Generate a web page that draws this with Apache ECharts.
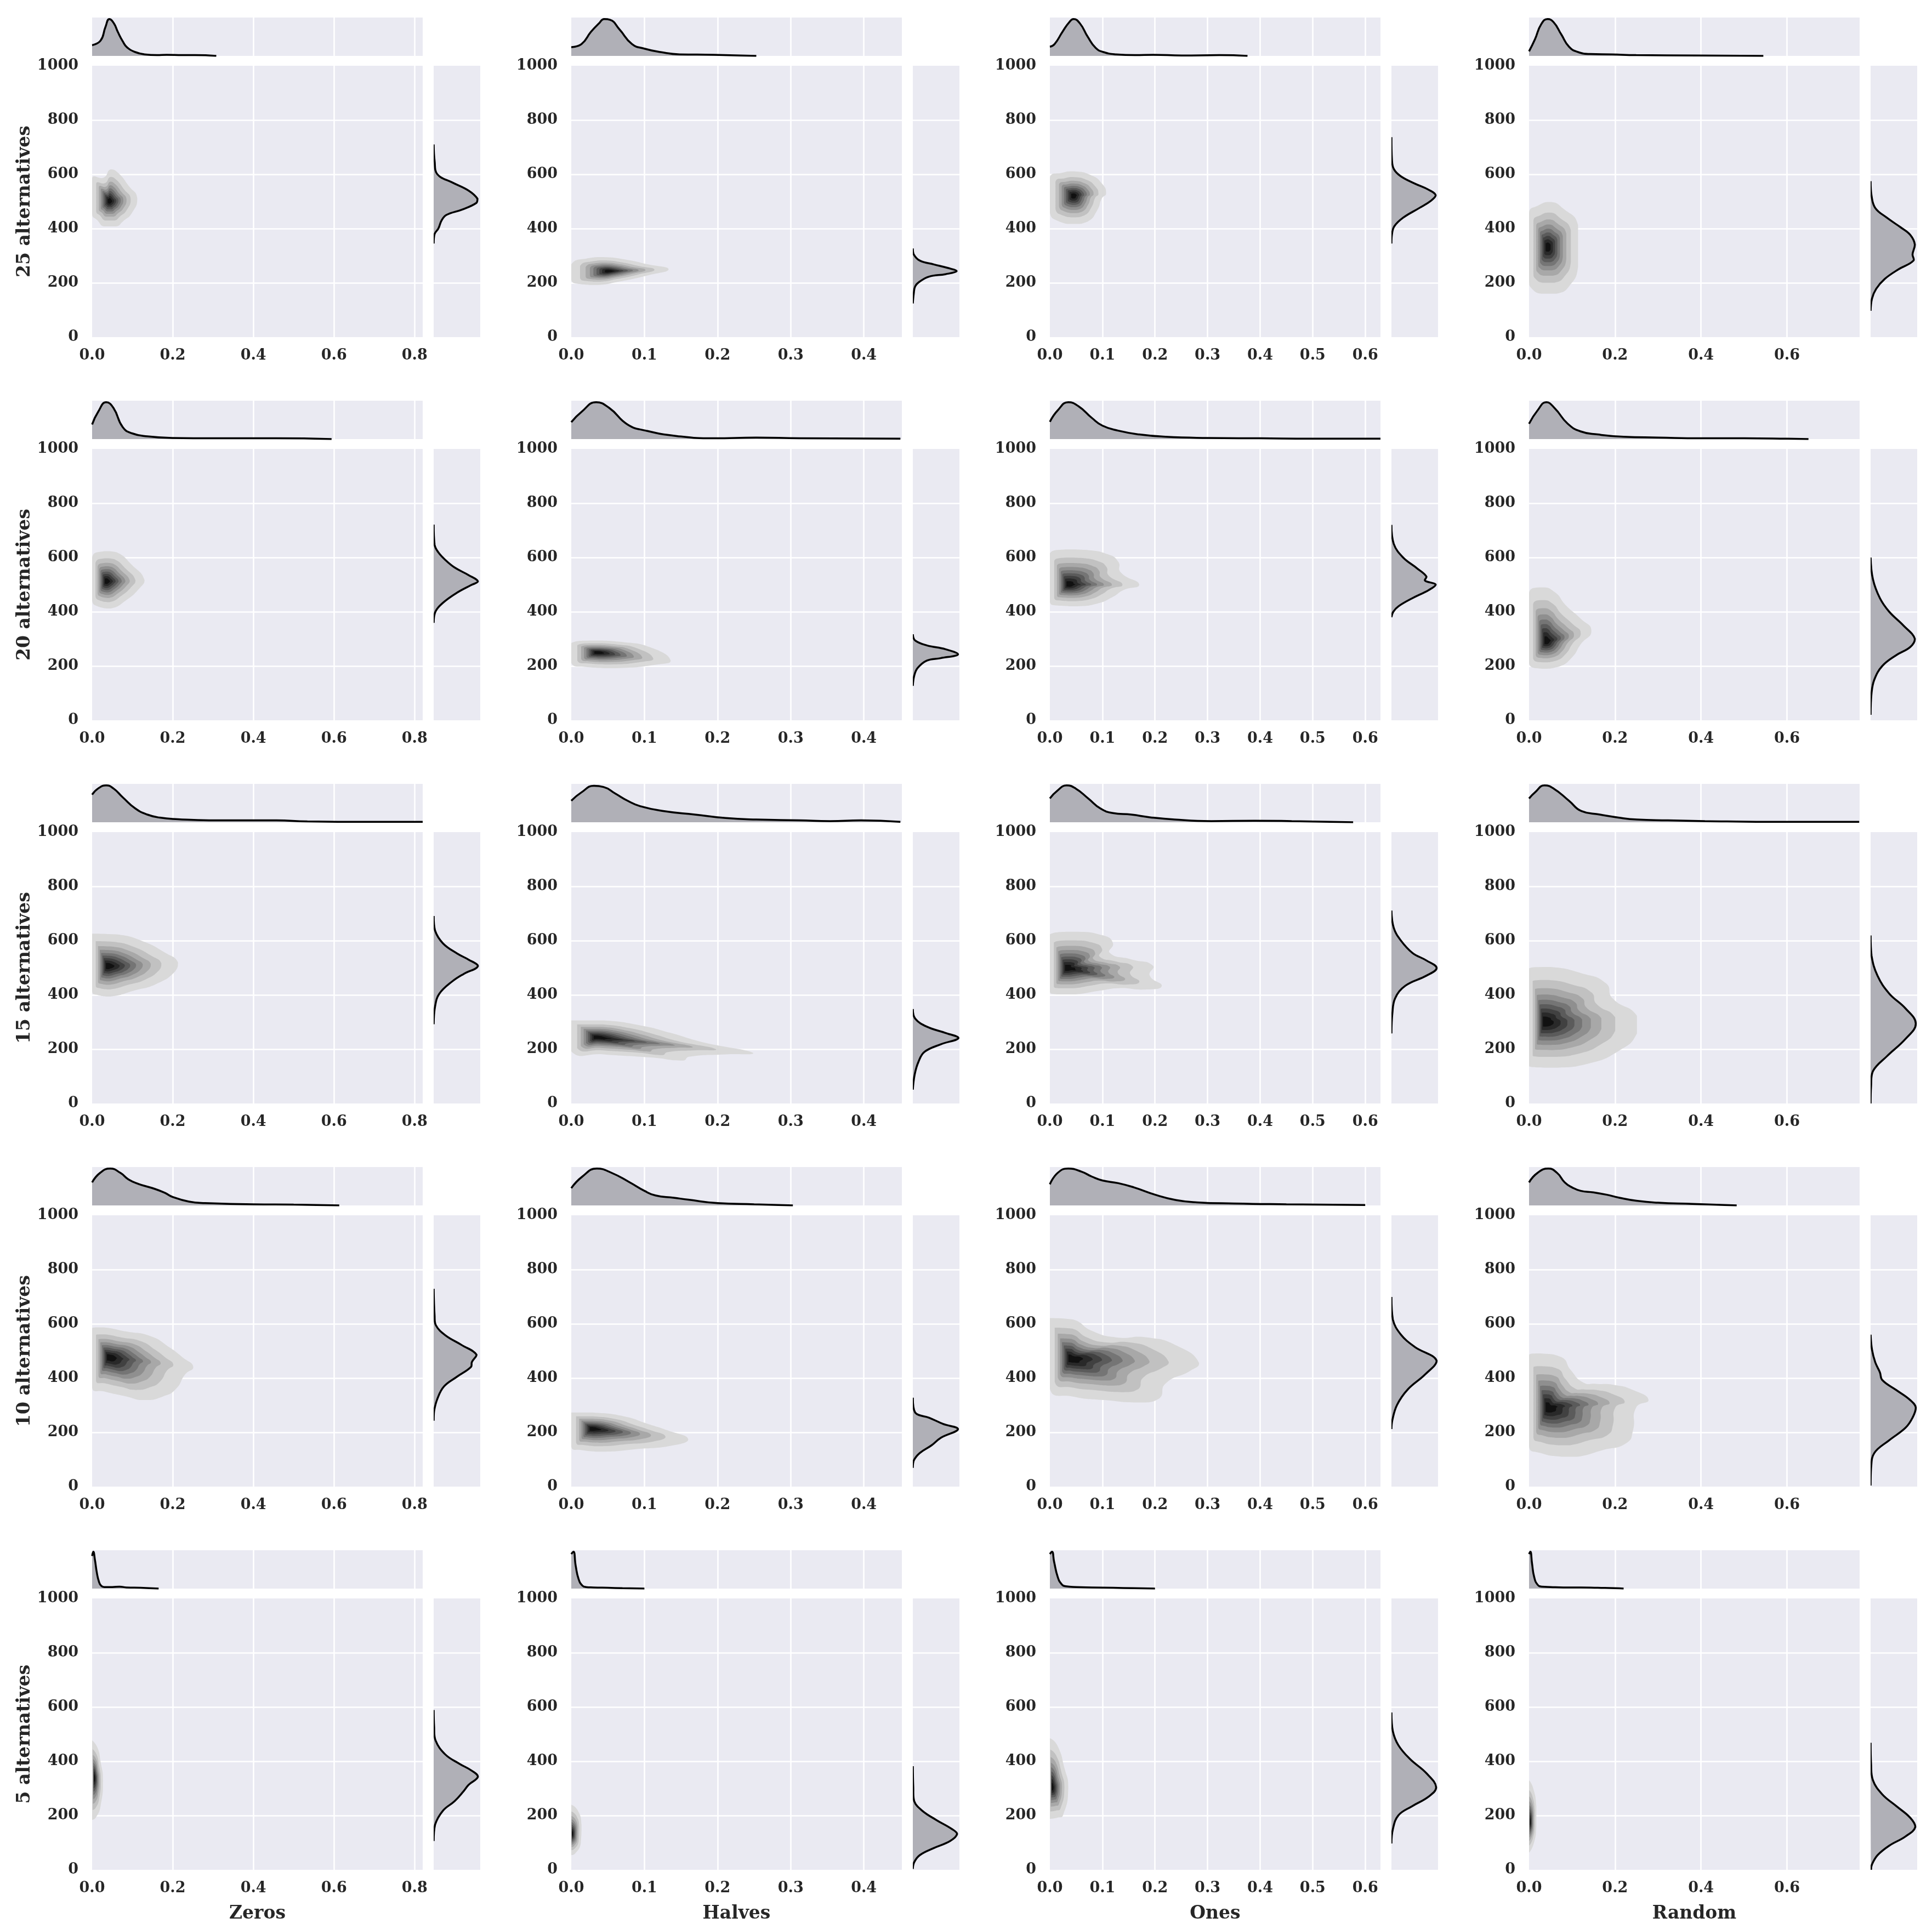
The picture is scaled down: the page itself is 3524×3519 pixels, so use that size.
<!DOCTYPE html>
<html><head><meta charset="utf-8">
<script src="https://cdn.jsdelivr.net/npm/echarts@6/dist/echarts.min.js"></script>
<style>html,body{margin:0;padding:0;background:#fff}#chart{width:3524px;height:3519px}</style>
</head><body><div id="chart"></div>
<script>
// ---------------- DATA ----------------
const rowLabels = ['25 alternatives', '20 alternatives', '15 alternatives', '10 alternatives', '5 alternatives'];
const colLabels = ['Zeros', 'Halves', 'Ones', 'Random'];
const xMax = [0.82, 0.452, 0.629, 0.769];
const xStep = [0.2, 0.1, 0.1, 0.2];
const yMin = 0, yMax = 1000, yStep = 200;

// density peaks [x, y] per column (Zeros, Halves, Ones, Random)
const peaks25 = [[0.043,501],[0.051,243],[0.045,521],[0.043,332]];
const peaks20 = [[0.035,512],[0.035,250],[0.035,500],[0.040,290]];
const peaks15 = [[0.038,506],[0.034,244],[0.032,498],[0.036,300]];
const peaks10 = [[0.041,477],[0.028,214],[0.039,472],[0.043,291]];
const peaks5  = [[0.005,339],[0.001,132],[0.004,304],[0.002,175]];

// outermost KDE contour outline [x, y] per column
const outer25 = [
  [[0,586],[0.029,588],[0.046,618],[0.064,606],[0.091,557],[0.112,512],[0.099,458],[0.076,426],[0.060,408],[0.029,408],[0.013,431],[0,452]],
  [[0,268],[0.023,291],[0.044,295],[0.074,286],[0.105,268],[0.133,250],[0.105,228],[0.066,205],[0.036,192],[0.010,196],[0,210]],
  [[0,588],[0.024,606],[0.045,611],[0.078,597],[0.099,566],[0.107,530],[0.099,512],[0.090,467],[0.072,426],[0.045,417],[0.018,426],[0,458]],
  [[0,458],[0.021,485],[0.050,498],[0.078,476],[0.114,413],[0.114,259],[0.093,187],[0.064,160],[0.028,160],[0.007,178],[0,205]]
];
const outer20 = [
  [[0,600],[0.030,623],[0.061,619],[0.099,572],[0.130,517],[0.119,489],[0.084,442],[0.046,412],[0.015,419],[0,442]],
  [[0,285],[0.027,294],[0.069,289],[0.111,266],[0.136,220],[0.119,206],[0.060,192],[0.018,197],[0,211]],
  [[0,615],[0.030,630],[0.070,628],[0.110,612],[0.130,585],[0.135,545],[0.170,500],[0.140,480],[0.120,455],[0.090,430],[0.050,420],[0.020,422],[0,435]],
  [[0,470],[0.030,490],[0.060,472],[0.085,425],[0.120,375],[0.145,330],[0.120,280],[0.100,232],[0.070,198],[0.030,190],[0,210]]
];
const outer15 = [
  [[0,626],[0.061,623],[0.122,600],[0.183,554],[0.213,520],[0.206,487],[0.160,441],[0.107,417],[0.046,394],[0.015,399],[0,413]],
  [[0,306],[0.044,306],[0.094,288],[0.136,260],[0.178,227],[0.249,186],[0.211,181],[0.161,172],[0.153,158],[0.111,169],[0.044,181],[0,192]],
  [[0,623],[0.049,633],[0.102,619],[0.120,591],[0.114,555],[0.155,531],[0.196,508],[0.190,471],[0.213,434],[0.184,420],[0.131,425],[0.096,416],[0.049,402],[0.014,402],[0,411]],
  [[0,498],[0.050,503],[0.122,480],[0.179,443],[0.194,388],[0.251,323],[0.251,258],[0.208,193],[0.136,146],[0.065,132],[0,137]]
];
const outer10 = [
  [[0,585],[0.029,587],[0.083,572],[0.146,554],[0.192,513],[0.224,477],[0.251,441],[0.231,414],[0.208,360],[0.177,333],[0.130,319],[0.083,333],[0.029,351],[0,364]],
  [[0,273],[0.029,273],[0.072,259],[0.105,231],[0.131,208],[0.160,175],[0.139,152],[0.088,138],[0.046,129],[0.013,135],[0,147]],
  [[0,621],[0.044,616],[0.080,574],[0.126,550],[0.185,550],[0.243,518],[0.284,455],[0.267,427],[0.220,380],[0.208,325],[0.173,310],[0.103,319],[0.044,332],[0,360]],
  [[0,486],[0.026,491],[0.076,477],[0.097,430],[0.126,384],[0.155,379],[0.198,375],[0.242,356],[0.278,319],[0.249,291],[0.242,208],[0.227,161],[0.170,134],[0.112,110],[0.076,110],[0.026,124],[0,148]]
];
const outer5 = [
  [[0,477],[0.013,451],[0.021,399],[0.027,330],[0.021,235],[0.009,192],[0,184]],
  [[0,240],[0.009,218],[0.014,166],[0.013,97],[0.005,59],[0,54]],
  [[0,485],[0.014,459],[0.028,373],[0.035,304],[0.025,201],[0.014,192],[0,188]],
  [[0,330],[0.009,304],[0.017,235],[0.017,158],[0.011,97],[0,63]]
];

// top marginal KDE curves [x, relative density]
const top25 = [
  [[0,0.28],[0.021,0.40],[0.033,0.75],[0.043,0.96],[0.054,0.85],[0.064,0.62],[0.076,0.38],[0.087,0.22],[0.107,0.10],[0.130,0.04],[0.161,0.02],[0.185,0.03],[0.224,0.02],[0.255,0.02],[0.308,0]],
  [[0,0.23],[0.014,0.31],[0.027,0.63],[0.038,0.85],[0.045,0.96],[0.053,0.94],[0.066,0.69],[0.083,0.31],[0.100,0.19],[0.122,0.10],[0.148,0.04],[0.195,0.03],[0.253,0]],
  [[0,0.24],[0.009,0.31],[0.024,0.63],[0.037,0.88],[0.045,0.96],[0.057,0.85],[0.072,0.50],[0.087,0.21],[0.102,0.10],[0.126,0.04],[0.162,0.02],[0.197,0.03],[0.251,0.01],[0.323,0.02],[0.376,0]],
  [[0,0.12],[0.014,0.44],[0.028,0.82],[0.043,0.96],[0.057,0.88],[0.075,0.56],[0.093,0.24],[0.114,0.10],[0.142,0.05],[0.192,0.04],[0.249,0.02],[0.391,0.01],[0.545,0]]
];
const top20 = [
  [[0,0.38],[0.015,0.71],[0.035,0.96],[0.053,0.81],[0.076,0.31],[0.099,0.15],[0.137,0.07],[0.198,0.03],[0.305,0.02],[0.457,0.02],[0.594,0]],
  [[0,0.44],[0.014,0.71],[0.034,0.96],[0.052,0.81],[0.077,0.38],[0.102,0.22],[0.144,0.08],[0.195,0.02],[0.253,0.04],[0.312,0.02],[0.450,0.01]],
  [[0,0.45],[0.015,0.75],[0.035,0.96],[0.055,0.85],[0.080,0.55],[0.100,0.35],[0.130,0.22],[0.170,0.12],[0.220,0.06],[0.300,0.03],[0.400,0.02],[0.500,0.01],[0.629,0.01]],
  [[0,0.40],[0.020,0.75],[0.040,0.96],[0.060,0.80],[0.090,0.40],[0.120,0.20],[0.160,0.12],[0.220,0.06],[0.300,0.04],[0.400,0.02],[0.500,0.02],[0.600,0.01],[0.650,0]]
];
const top15 = [
  [[0,0.72],[0.015,0.88],[0.035,0.96],[0.053,0.88],[0.076,0.65],[0.107,0.36],[0.137,0.20],[0.168,0.12],[0.213,0.08],[0.290,0.05],[0.381,0.05],[0.457,0.05],[0.534,0.02],[0.686,0.01],[0.820,0.01]],
  [[0,0.56],[0.014,0.78],[0.031,0.95],[0.044,0.92],[0.060,0.75],[0.077,0.56],[0.094,0.42],[0.127,0.29],[0.169,0.20],[0.211,0.11],[0.253,0.07],[0.312,0.05],[0.354,0.03],[0.396,0.05],[0.450,0.01]],
  [[0,0.62],[0.014,0.82],[0.032,0.96],[0.049,0.88],[0.073,0.62],[0.096,0.36],[0.120,0.24],[0.155,0.20],[0.190,0.13],[0.237,0.07],[0.307,0.03],[0.389,0.04],[0.460,0.03],[0.577,0]],
  [[0,0.62],[0.014,0.78],[0.036,0.96],[0.057,0.88],[0.093,0.56],[0.122,0.29],[0.165,0.20],[0.208,0.12],[0.251,0.07],[0.323,0.05],[0.409,0.03],[0.553,0.01],[0.768,0.01]]
];
const top10 = [
  [[0,0.60],[0.020,0.85],[0.045,0.96],[0.070,0.85],[0.090,0.68],[0.115,0.56],[0.150,0.45],[0.180,0.33],[0.200,0.22],[0.240,0.10],[0.280,0.06],[0.400,0.03],[0.500,0.02],[0.613,0]],
  [[0,0.45],[0.015,0.75],[0.035,0.96],[0.055,0.85],[0.080,0.60],[0.100,0.38],[0.115,0.26],[0.140,0.20],[0.160,0.15],[0.200,0.06],[0.250,0.03],[0.303,0]],
  [[0,0.55],[0.015,0.85],[0.035,0.96],[0.060,0.88],[0.080,0.75],[0.100,0.65],[0.130,0.58],[0.160,0.47],[0.200,0.28],[0.240,0.14],[0.280,0.08],[0.350,0.05],[0.450,0.03],[0.600,0.01]],
  [[0,0.60],[0.020,0.85],[0.045,0.96],[0.065,0.85],[0.083,0.60],[0.100,0.47],[0.120,0.38],[0.150,0.34],[0.180,0.28],[0.210,0.20],[0.250,0.12],[0.300,0.07],[0.380,0.04],[0.483,0]]
];
const top5 = [
  [[0,0.85],[0.003,0.96],[0.007,0.75],[0.012,0.40],[0.017,0.18],[0.022,0.08],[0.030,0.04],[0.050,0.04],[0.068,0.05],[0.085,0.03],[0.120,0.02],[0.165,0]],
  [[0,0.90],[0.003,0.96],[0.006,0.60],[0.010,0.25],[0.015,0.08],[0.020,0.04],[0.030,0.03],[0.050,0.02],[0.070,0.01],[0.100,0]],
  [[0,0.90],[0.004,0.96],[0.008,0.70],[0.015,0.30],[0.022,0.12],[0.030,0.06],[0.050,0.04],[0.080,0.03],[0.120,0.02],[0.160,0.01],[0.200,0]],
  [[0,0.90],[0.003,0.96],[0.007,0.65],[0.012,0.30],[0.020,0.10],[0.030,0.05],[0.050,0.04],[0.080,0.03],[0.120,0.03],[0.160,0.02],[0.200,0.01],[0.220,0]]
];

// right marginal KDE curves [y, relative density]
const right25 = [
  [[710,0],[650,0.02],[600,0.08],[570,0.40],[540,0.75],[510,0.94],[495,0.92],[470,0.61],[450,0.27],[430,0.17],[400,0.10],[380,0.02],[345,0]],
  [[327,0],[305,0.02],[282,0.15],[268,0.45],[255,0.75],[243,0.94],[232,0.70],[223,0.35],[205,0.15],[187,0.05],[160,0.02],[124,0]],
  [[737,0],[656,0.01],[620,0.05],[593,0.20],[566,0.50],[543,0.80],[523,0.95],[503,0.85],[476,0.60],[440,0.25],[408,0.06],[377,0.01],[345,0]],
  [[575,0],[521,0.02],[476,0.10],[440,0.35],[404,0.65],[377,0.85],[341,0.95],[305,0.90],[282,0.92],[250,0.60],[214,0.30],[178,0.12],[142,0.03],[97,0]]
];
const right20 = [
  [[721,0],[647,0.02],[619,0.10],[591,0.25],[563,0.45],[535,0.75],[512,0.95],[498,0.80],[470,0.50],[433,0.20],[401,0.04],[359,0]],
  [[317,0],[294,0.05],[276,0.30],[262,0.70],[243,0.97],[229,0.60],[220,0.30],[192,0.10],[164,0.03],[127,0]],
  [[720,0],[650,0.05],[600,0.25],[560,0.55],[530,0.75],[515,0.72],[500,0.95],[480,0.80],[450,0.45],[420,0.15],[400,0.04],[380,0]],
  [[600,0],[520,0.05],[450,0.20],[400,0.40],[350,0.70],[300,0.95],[270,0.85],[240,0.55],[200,0.25],[150,0.08],[100,0.02],[20,0]]
];
const right15 = [
  [[691,0],[637,0.03],[590,0.20],[553,0.50],[530,0.75],[506,0.95],[478,0.65],[450,0.40],[404,0.12],[357,0.03],[292,0]],
  [[348,0],[313,0.05],[283,0.30],[260,0.70],[241,0.98],[218,0.60],[190,0.25],[153,0.12],[107,0.04],[51,0]],
  [[711,0],[647,0.05],[601,0.20],[555,0.45],[527,0.75],[499,0.97],[471,0.75],[434,0.30],[388,0.08],[332,0.02],[258,0]],
  [[619,0],[545,0.02],[470,0.15],[405,0.40],[350,0.75],[294,0.97],[238,0.75],[174,0.35],[119,0.05],[63,0.01],[0,0]]
];
const right10 = [
  [[729,0],[630,0.02],[594,0.05],[558,0.25],[522,0.60],[486,0.92],[459,0.82],[441,0.80],[405,0.50],[369,0.22],[324,0.08],[279,0.01],[243,0]],
  [[328,0],[273,0.05],[254,0.35],[231,0.65],[212,0.97],[180,0.60],[152,0.40],[124,0.15],[96,0.02],[69,0]],
  [[699,0],[616,0.03],[561,0.20],[515,0.50],[464,0.97],[413,0.72],[358,0.35],[301,0.12],[245,0.02],[212,0]],
  [[560,0],[505,0.03],[458,0.10],[421,0.20],[393,0.25],[356,0.55],[319,0.85],[291,0.97],[254,0.90],[217,0.75],[171,0.40],[124,0.08],[69,0.01],[4,0]]
];
const right5 = [
  [[589,0],[528,0.01],[477,0.04],[425,0.25],[391,0.55],[365,0.82],[343,0.95],[313,0.75],[287,0.63],[253,0.45],[218,0.20],[166,0.03],[106,0]],
  [[382,0],[304,0.01],[253,0.03],[218,0.20],[184,0.50],[149,0.85],[132,0.95],[106,0.80],[80,0.45],[54,0.15],[28,0.03],[3,0]],
  [[580,0],[511,0.03],[459,0.15],[408,0.40],[356,0.75],[304,0.96],[270,0.80],[235,0.45],[201,0.15],[149,0.03],[97,0]],
  [[468,0],[391,0.01],[330,0.05],[278,0.25],[235,0.55],[192,0.85],[158,0.96],[123,0.75],[89,0.40],[54,0.15],[20,0.03],[0,0.01]]
];

// ---------------- LAYOUT & STYLE ----------------
const COL_LEFT = [168, 1042, 1915, 2789];
const MAIN_W = 603, MAIN_H = 495, ROW_TOP0 = 120, ROW_STEP = 699;
const MARG_GAP = 20, MARG_W = 85, TOP_H = 70, TOP_GAP = 18;
const BG = '#eaeaf2', FILL = '#b0b0b7', TXT = '#262626', FONT = 'DejaVu Serif';
const LEVEL_COLORS = ['#d9d9d9','#c1c1c1','#a8a8a8','#8f8f8f','#757575','#5b5b5b','#414141','#292929','#111111'];
const LEVEL_FRAC = [0.1,0.2,0.3,0.4,0.5,0.6,0.7,0.8,0.9];
const LEVEL_SCALE = LEVEL_FRAC.map(f => Math.pow(Math.log(1 / f) / Math.log(10), 0.75));
const SMOOTH = 0.55;

const rows = [
  {label: rowLabels[0], peaks: peaks25, outer: outer25, top: top25, right: right25},
  {label: rowLabels[1], peaks: peaks20, outer: outer20, top: top20, right: right20},
  {label: rowLabels[2], peaks: peaks15, outer: outer15, top: top15, right: right15},
  {label: rowLabels[3], peaks: peaks10, outer: outer10, top: top10, right: right10},
  {label: rowLabels[4], peaks: peaks5,  outer: outer5,  top: top5,  right: right5}
];

const NOBOX = [[Infinity, Infinity], [-Infinity, -Infinity]];
const splitWhite = {show: true, showMinLine: false, showMaxLine: false, lineStyle: {color: '#ffffff', width: 2.6}};
const labelStyle = {fontFamily: FONT, fontWeight: 'bold', fontSize: 27, color: TXT};
const nameStyle = {fontFamily: FONT, fontWeight: 'bold', fontSize: 33, color: TXT};

function contourRenderer(outer, peak) {
  return function (params, api) {
    const k = api.value(2);
    const s = LEVEL_SCALE[k];
    const pts = outer.map(p => api.coord([peak[0] + (p[0] - peak[0]) * s, peak[1] + (p[1] - peak[1]) * s]));
    return {type: 'polygon', shape: {points: pts, smooth: SMOOTH, smoothConstraint: NOBOX},
            style: {fill: LEVEL_COLORS[k], stroke: null}};
  };
}
function rightRenderer(curve) {
  return function (params, api) {
    const pts = curve.map(p => api.coord([p[1], p[0]]));
    return {type: 'group', children: [
      {type: 'polygon', shape: {points: pts, smooth: 0.4, smoothConstraint: NOBOX}, style: {fill: FILL, stroke: null}},
      {type: 'polyline', shape: {points: pts, smooth: 0.4, smoothConstraint: NOBOX}, style: {fill: 'none', stroke: '#000', lineWidth: 3.5}}
    ]};
  };
}

const grid = [], xAxis = [], yAxis = [], series = [];
rows.forEach((row, r) => {
  const top = ROW_TOP0 + r * ROW_STEP;
  for (let c = 0; c < 4; c++) {
    const left = COL_LEFT[c];
    const g = grid.length;
    grid.push({left: left, top: top, width: MAIN_W, height: MAIN_H, show: true, backgroundColor: BG, borderWidth: 0, containLabel: false, outerBoundsMode: 'none'});
    grid.push({left: left, top: top - TOP_GAP - TOP_H, width: MAIN_W, height: TOP_H, show: true, backgroundColor: BG, borderWidth: 0, containLabel: false, outerBoundsMode: 'none'});
    grid.push({left: left + MAIN_W + MARG_GAP, top: top, width: MARG_W, height: MAIN_H, show: true, backgroundColor: BG, borderWidth: 0, containLabel: false, outerBoundsMode: 'none'});

    xAxis.push({gridIndex: g, type: 'value', min: 0, max: xMax[c], interval: xStep[c],
      axisLine: {show: false}, axisTick: {show: false}, splitLine: splitWhite,
      axisLabel: Object.assign({margin: 20, showMaxLabel: false, formatter: v => v.toFixed(1)}, labelStyle),
      name: r === rows.length - 1 ? colLabels[c] : '', nameLocation: 'middle', nameGap: 64, nameTextStyle: nameStyle});
    yAxis.push({gridIndex: g, type: 'value', min: yMin, max: yMax, interval: yStep,
      axisLine: {show: false}, axisTick: {show: false}, splitLine: splitWhite,
      axisLabel: Object.assign({margin: 25, formatter: v => String(v)}, labelStyle),
      name: c === 0 ? row.label : '', nameLocation: 'middle', nameRotate: 90, nameGap: 106, nameTextStyle: nameStyle});

    xAxis.push({gridIndex: g + 1, type: 'value', min: 0, max: xMax[c], interval: xStep[c],
      axisLine: {show: false}, axisTick: {show: false}, axisLabel: {show: false}, splitLine: splitWhite});
    yAxis.push({gridIndex: g + 1, type: 'value', min: 0, max: 1,
      axisLine: {show: false}, axisTick: {show: false}, axisLabel: {show: false}, splitLine: {show: false}});

    xAxis.push({gridIndex: g + 2, type: 'value', min: 0, max: 1,
      axisLine: {show: false}, axisTick: {show: false}, axisLabel: {show: false}, splitLine: {show: false}});
    yAxis.push({gridIndex: g + 2, type: 'value', min: yMin, max: yMax, interval: yStep,
      axisLine: {show: false}, axisTick: {show: false}, axisLabel: {show: false}, splitLine: splitWhite});

    const peak = row.peaks[c];
    series.push({type: 'custom', coordinateSystem: 'cartesian2d', xAxisIndex: g, yAxisIndex: g, clip: true, silent: true,
      encode: {x: 0, y: 1}, data: LEVEL_COLORS.map((_, k) => [peak[0], peak[1], k]),
      renderItem: contourRenderer(row.outer[c], peak)});
    series.push({type: 'line', xAxisIndex: g + 1, yAxisIndex: g + 1, data: row.top[c], smooth: 0.5, clip: true,
      symbol: 'none', silent: true, lineStyle: {color: '#000', width: 3.5}, areaStyle: {color: FILL, opacity: 1}});
    series.push({type: 'custom', coordinateSystem: 'cartesian2d', xAxisIndex: g + 2, yAxisIndex: g + 2, clip: true, silent: true,
      encode: {x: 0, y: 1}, data: [[0, 500]], renderItem: rightRenderer(row.right[c])});
  }
});

const chart = echarts.init(document.getElementById('chart'), null, {renderer: 'canvas', width: 3524, height: 3519});
chart.setOption({
  animation: false,
  backgroundColor: '#ffffff',
  textStyle: {fontFamily: FONT},
  grid: grid, xAxis: xAxis, yAxis: yAxis, series: series
});
</script>
</body></html>
